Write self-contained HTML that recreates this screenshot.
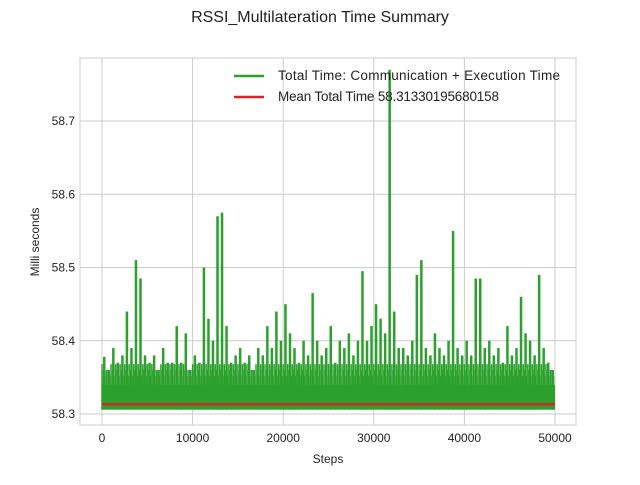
<!DOCTYPE html>
<html><head><meta charset="utf-8"><style>
body{margin:0;background:#fff;font-family:"Liberation Sans",sans-serif}
text{font-family:"Liberation Sans",sans-serif}
</style></head><body>
<svg id="c" width="640" height="480">
<rect width="640" height="480" fill="#fff"/>
<text x="320" y="22" text-anchor="middle" font-size="16" fill="#222">RSSI_Multilateration Time Summary</text>
<rect x="80" y="58" width="496" height="367" fill="#fff" stroke="#ccc"/>
<g id="grid"></g><g id="series"></g>
<text x="328" y="463" text-anchor="middle" font-size="12" fill="#222">Steps</text>
<text transform="translate(39,242) rotate(-90)" text-anchor="middle" font-size="12" fill="#222">Milli seconds</text>
<g>
<line x1="234" y1="76" x2="264" y2="76" stroke="#2ca02c" stroke-width="2.5"/>
<text x="278" y="80" font-size="13.5" fill="#222" textLength="282">Total Time: Communication + Execution Time</text>
<line x1="234" y1="97" x2="264" y2="97" stroke="#d62728" stroke-width="2.5"/>
<text x="278" y="101" font-size="13.5" fill="#222" textLength="221">Mean Total Time 58.31330195680158</text>
</g>
</svg>
<script>
const xTicks=[0,10000,20000,30000,40000,50000];
const yTicks=[58.3,58.4,58.5,58.6,58.7];
const yTickLabels=["58.3","58.4","58.5","58.6","58.7"];
const binSize=500;
const binMax=[58.378,58.36,58.39,58.37,58.38,58.44,58.39,58.51,58.485,58.38,58.37,58.38,58.36,58.39,58.37,58.37,58.42,58.37,58.41,58.36,58.38,58.37,58.50,58.43,58.40,58.57,58.575,58.42,58.37,58.38,58.39,58.37,58.38,58.36,58.39,58.38,58.42,58.39,58.44,58.40,58.45,58.41,58.39,58.37,58.40,58.38,58.465,58.40,58.38,58.39,58.42,58.37,58.40,58.39,58.41,58.38,58.40,58.495,58.40,58.42,58.45,58.43,58.41,58.77,58.44,58.39,58.39,58.38,58.40,58.49,58.51,58.39,58.38,58.41,58.39,58.38,58.40,58.55,58.39,58.38,58.40,58.38,58.485,58.485,58.39,58.40,58.38,58.39,58.37,58.42,58.38,58.39,58.46,58.41,58.40,58.38,58.49,58.39,58.37,58.36];
const baseLow=58.306, bandTop=58.34, midCap=58.368;
const meanVal=58.31330195680158, lastStep=50000;
const X=s=>102+s*(453/50000);
const Y=v=>414-(v-58.3)*732.5;
const ns="http://www.w3.org/2000/svg";
const grid=document.getElementById('grid'), ser=document.getElementById('series'), svg=document.getElementById('c');
function mk(tag,a,p){const e=document.createElementNS(ns,tag);for(const k in a)e.setAttribute(k,a[k]);(p||svg).appendChild(e);return e;}
xTicks.forEach((t,i)=>{
 const g=mk('line',{x1:X(t),x2:X(t),y1:58,y2:425,stroke:'#ccc'},grid);
 
 
 const l=mk('text',{x:X(t),y:442,'text-anchor':'middle','font-size':12,fill:'#222'});
 
 
 l.textContent=String(t);
});
yTicks.forEach((t,i)=>{
 const g=mk('line',{x1:80,x2:576,y1:Y(t),y2:Y(t),stroke:'#ccc'},grid);
 
 
 const l=mk('text',{x:75,y:Y(t)+4,'text-anchor':'end','font-size':12,fill:'#222'});
 
 
 l.textContent=yTickLabels[i];
});
const band=mk('rect',{x:X(0),y:Y(bandTop),width:X(lastStep)-X(0),height:Y(baseLow)-Y(bandTop),fill:'#2ca02c'},ser);


binMax.forEach((v,i)=>{
 const s=i*binSize+binSize*0.5;
 for(let k=0;k<3;k++){
  const s2=i*binSize+binSize*k/3;
  const l2=mk('line',{x1:X(s2),x2:X(s2),y1:Y(baseLow),y2:Y(Math.min(v,midCap-0.008*k)),stroke:'#2ca02c','stroke-width':1.5},ser);
  
  
 }
 const l=mk('line',{x1:X(s),x2:X(s),y1:Y(baseLow),y2:Y(v),stroke:'#2ca02c','stroke-width':2.5},ser);
 
 
});
const m=mk('line',{x1:X(0),x2:X(lastStep),y1:Y(meanVal),y2:Y(meanVal),stroke:'#d62728','stroke-width':2.5},ser);


</script>
</body></html>
